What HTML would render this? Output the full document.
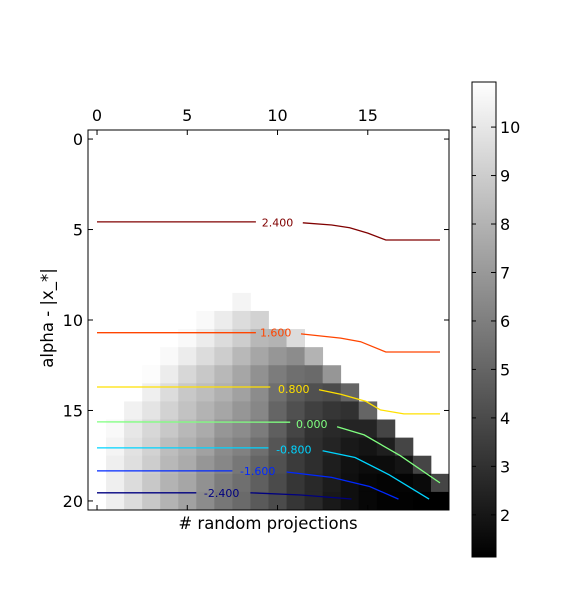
<!DOCTYPE html>
<html><head><meta charset="utf-8"><style>
html,body{margin:0;padding:0;background:#fff;}
svg{display:block;font-family:"DejaVu Sans","Liberation Sans",sans-serif;}
</style></head><body>
<svg id="chart" width="583" height="612" viewBox="0 0 583 612" xmlns="http://www.w3.org/2000/svg">
<defs><linearGradient id="cbg" x1="0" y1="1" x2="0" y2="0"><stop offset="0" stop-color="#000"/><stop offset="1" stop-color="#fff"/></linearGradient></defs>
<g id="cells"></g>
<g id="contours"></g>
<rect x="88" y="130" width="361" height="380" fill="none" stroke="#000" stroke-width="1"/>
<g id="axes"></g>
<text x="268" y="529" font-size="16.5" text-anchor="middle"># random projections</text>
<text transform="translate(53,318) rotate(-90)" font-size="16.5" text-anchor="middle">alpha - |x_*|</text>
<rect x="472" y="82" width="24" height="475" fill="url(#cbg)" stroke="#000" stroke-width="1"/>
<g id="cbticks"></g>
</svg>
<script>
// Heatmap rows: [row, startCol, values...]
const heatRows = [
 [9, 8, 10.5],
 [10, 6, 10.7,10.2,9.6,9.2],
 [11, 5, 10.7,10.2,9.6,9.0,8.2,8.0,9.6],
 [12, 4, 10.7,10.2,9.6,9.0,8.2,7.5,6.9,6.5,8.0],
 [13, 3, 10.8,10.2,9.4,8.8,8.2,7.5,6.7,5.9,5.4,5.2,6.9],
 [14, 3, 10.3,9.6,8.8,8.4,7.9,7.3,6.5,5.4,4.6,4.2,4.0,5.0],
 [15, 2, 10.4,9.9,9.2,8.6,8.0,7.5,6.9,6.3,5.0,4.2,3.6,3.2,3.0,5.0],
 [16, 1, 10.7,10.0,9.4,8.8,8.2,7.7,6.9,6.5,5.9,4.8,3.8,3.0,2.7,2.5,2.5,3.8],
 [17, 1, 10.5,9.8,9.2,8.4,7.9,7.3,6.5,6.1,5.4,4.4,3.4,2.9,2.5,2.1,1.9,2.3,3.8],
 [18, 1, 10.3,9.7,9.0,8.2,7.7,6.9,6.3,5.7,5.0,4.2,3.4,2.9,2.3,1.8,1.6,1.6,1.9,3.8],
 [19, 1, 10.3,9.6,8.8,8.0,7.5,6.7,5.9,5.4,4.8,4.0,3.2,2.7,2.2,1.7,1.4,1.3,1.3,1.5,3.8],
 [20, 1, 10.3,9.6,8.8,8.0,7.3,6.5,5.7,5.2,4.6,4.0,3.2,2.7,2.1,1.7,1.4,1.2,1.2,1.1,1.1]
];
const vmin = 1.13, vmax = 10.93;
const levels = [2.4, 1.6, 0.8, 0.0, -0.8, -1.6, -2.4];
const levelLabels = ["2.400","1.600","0.800","0.000","-0.800","-1.600","-2.400"];
const levelColors = ["#800000","#ff4500","#ffe000","#80ff80","#00d4ff","#0028ff","#000080"];
const contourSegs = [
 [[[0,4.58],[8.8,4.58]],[[11.4,4.63],[13,4.75],[14,4.9],[15,5.2],[16,5.58],[19,5.58]]],
 [[[0,10.7],[8.8,10.7]],[[11.3,10.77],[13.5,11.0],[14.6,11.2],[16,11.77],[19,11.77]]],
 [[[0,13.7],[9.6,13.7]],[[12.3,13.86],[13.5,14.1],[14.9,14.5],[15.7,14.97],[17,15.19],[19,15.19]]],
 [[[0,15.63],[10.7,15.65]],[[13.3,15.9],[14.8,16.35],[16.8,17.5],[19,19.0]]],
 [[[0,17.07],[9.5,17.07]],[[12.5,17.23],[14.3,17.6],[16.2,18.56],[18.4,19.9]]],
 [[[0,18.34],[7.5,18.34]],[[10.5,18.4],[13,18.7],[15.1,19.2],[16.7,19.9]]],
 [[[0,19.55],[5.5,19.55]],[[8.5,19.55],[11.3,19.67],[14.1,19.89]]]
];
const labelPos = [[10.0,4.6],[9.9,10.7],[10.9,13.8],[11.9,15.75],[10.9,17.15],[8.9,18.35],[6.9,19.55]];
const xTicks = [0,5,10,15];
const yTicks = [0,5,10,15,20];
const cbTicks = [2,3,4,5,6,7,8,9,10];

const NS="http://www.w3.org/2000/svg";
const X0=88,X1=449,Y0=130,Y1=510;
const sx = d => X0 + (d+0.5)*(X1-X0)/20;
const sy = d => Y0 + (d+0.5)*(Y1-Y0)/21;
const cw=(X1-X0)/20, ch=(Y1-Y0)/21;
function mk(tag, attrs, parent){const e=document.createElementNS(NS,tag);for(const k in attrs)e.setAttribute(k,attrs[k]);parent.appendChild(e);return e;}
const cells=document.getElementById('cells');
heatRows.forEach(r=>{
  const row=r[0], c0=r[1];
  for(let i=2;i<r.length;i++){
    const v=r[i], col=c0+i-2;
    let g=Math.round(255*Math.max(0,Math.min(1,(v-vmin)/(vmax-vmin))));
    const e=mk('rect',{x:(sx(col)-cw/2).toFixed(2),y:(sy(row)-ch/2).toFixed(2),width:(cw+0.4).toFixed(2),height:(ch+0.4).toFixed(2),fill:`rgb(${g},${g},${g})`},cells);
    
    
  }
});
const cg=document.getElementById('contours');
levels.forEach((lv,i)=>{
  contourSegs[i].forEach(seg=>{
    const p=mk('polyline',{points:seg.map(q=>sx(q[0]).toFixed(1)+','+sy(q[1]).toFixed(1)).join(' '),fill:'none',stroke:levelColors[i],'stroke-width':1.3},cg);
    
    
  });
  const t=mk('text',{x:sx(labelPos[i][0]).toFixed(1),y:(sy(labelPos[i][1])+4).toFixed(1),fill:levelColors[i],'font-size':11,'text-anchor':'middle'},cg);
  t.textContent=levelLabels[i];
  
  
});
const ax=document.getElementById('axes');
xTicks.forEach(v=>{
  const x=sx(v);
  mk('line',{x1:x,y1:Y0,x2:x,y2:Y0+5,stroke:'#000'},ax);
  mk('line',{x1:x,y1:Y1,x2:x,y2:Y1-5,stroke:'#000'},ax);
  const t=mk('text',{x:x,y:121,'font-size':16,'text-anchor':'middle'},ax);
  t.textContent=v;
  
  
});
yTicks.forEach(v=>{
  const y=sy(v);
  mk('line',{x1:X0,y1:y,x2:X0+5,y2:y,stroke:'#000'},ax);
  mk('line',{x1:X1,y1:y,x2:X1-5,y2:y,stroke:'#000'},ax);
  const t=mk('text',{x:83,y:y+6,'font-size':16,'text-anchor':'end'},ax);
  t.textContent=v;
  
  
});
const cb=document.getElementById('cbticks');
cbTicks.forEach(v=>{
  const y=82+475*(vmax-v)/(vmax-vmin);
  mk('line',{x1:491,y1:y,x2:496,y2:y,stroke:'#000'},cb);
  mk('line',{x1:472,y1:y,x2:476,y2:y,stroke:'#000'},cb);
  const t=mk('text',{x:500,y:y+6,'font-size':16},cb);
  t.textContent=v;
  
  
});
</script>
</body></html>
